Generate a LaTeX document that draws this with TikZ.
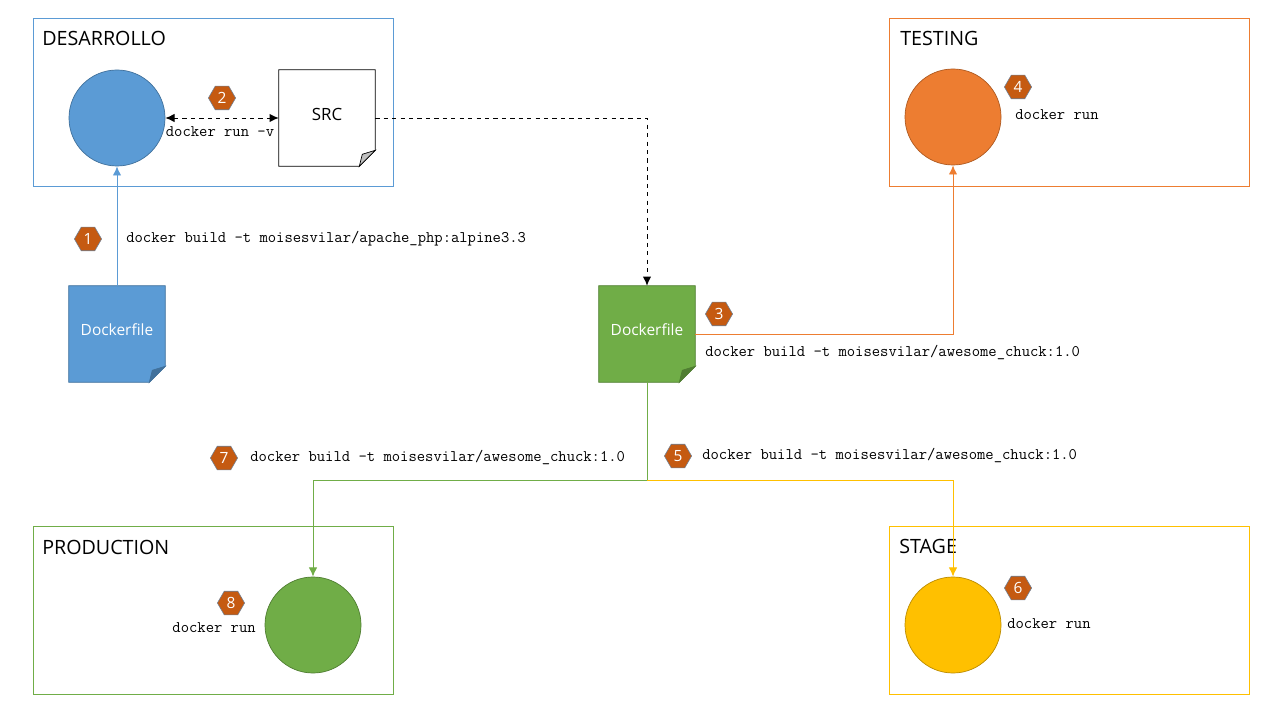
\documentclass[tikz,border=0pt]{standalone}
\usepackage{fontspec}
\setmainfont{Open Sans}
\usetikzlibrary{calc,positioning,arrows,arrows.meta,shapes,backgrounds}
\definecolor{devblue}{HTML}{5B9BD5}
\definecolor{devbluedark}{HTML}{41719C}
\definecolor{testorange}{HTML}{ED7D31}
\definecolor{testorangedark}{HTML}{AE5A21}
\definecolor{prodgreen}{HTML}{70AD47}
\definecolor{prodgreendark}{HTML}{507E32}
\definecolor{stageyellow}{HTML}{FFC000}
\definecolor{stageyellowdark}{HTML}{BC8C00}
\definecolor{badgefill}{HTML}{C55A11}
\definecolor{badgeline}{HTML}{6D7F95}
\definecolor{foldgray}{HTML}{BFBFBF}

\begin{document}
\begin{tikzpicture}[>={Latex[length=6.5pt,width=6pt]}, x=0.025cm, y=-0.025cm, every node/.style={inner sep=0pt}]
      \tikzset{
	  env/.style={draw, line width=0.6pt, minimum width=9cm, minimum height=4.2cm},
	  envtitle/.style={anchor=base west, font=\fontsize{14}{16}\selectfont},
	  host/.style={circle, line width=0.5pt, minimum size=2.4cm},
	  doc/.style={minimum width=2.4cm, minimum height=2.4cm, font=\fontsize{11}{13}\selectfont},
	  badge/.style={regular polygon, regular polygon sides=6, fill=badgefill, draw=badgeline, line width=0.4pt, minimum size=0.68cm, text=white, font=\fontsize{11}{13}\selectfont},
	  cmd/.style={font=\ttfamily\fontsize{11.5}{13}\selectfont},
	  link/.style={line width=0.7pt},
      }
      \useasboundingbox (0,0) rectangle (1280,720);

      % environments
      \node (devbox) at (213,102) [env, draw=devblue] {};
      \node at (42,46) [envtitle] {DESARROLLO};
      \node (testbox) at (1069,102) [env, draw=testorange] {};
      \node at (900,46) [envtitle] {TESTING};
      \node (prodbox) at (213,610) [env, draw=prodgreen] {};
      \node at (42,554) [envtitle] {PRODUCTION};
      \node (stagebox) at (1069,610) [env, draw=stageyellow] {};
      \node at (899,553) [envtitle] {STAGE};

      % containers
      \node (dev) at (117,118) [host, fill=devblue, draw=devbluedark] {};
      \node (test) at (953,117) [host, fill=testorange, draw=testorangedark] {};
      \node (prod) at (313,625) [host, fill=prodgreen, draw=prodgreendark] {};
      \node (stage) at (953,625) [host, fill=stageyellow, draw=stageyellowdark] {};

      % documents
      \node (src) at (327,118) [doc, font=\fontsize{12}{14}\selectfont] {\raisebox{0.2cm}{SRC}};
      \node (df1) at (117,334) [doc, text=white] {\raisebox{0.22cm}{Dockerfile}};
      \node (df2) at (647,334) [doc, text=white] {\raisebox{0.22cm}{Dockerfile}};
      \begin{scope}[on background layer]
	\foreach \d/\f/\k/\g in {src/white/black/foldgray, df1/devblue/devbluedark/devbluedark, df2/prodgreen/prodgreendark/prodgreendark} {
	  \filldraw [fill=\f, draw=\k, line width=0.5pt] (\d.north west) -- (\d.north east) -- ($(\d.south east)+(0,-16)$) -- ($(\d.south east)+(-16,0)$) -- (\d.south west) -- cycle;
	  \filldraw [fill=\g, draw=\k, line width=0.5pt] ($(\d.south east)+(0,-16)$) -- ($(\d.south east)+(-13,-12)$) -- ($(\d.south east)+(-16,0)$) -- cycle;
	}
      \end{scope}

      % connectors
      \coordinate (split) at (647,480);
      \draw [link, devblue, ->] (df1) -- (dev);
      \draw [link, dashed, <->] (dev) -- (src);
      \draw [link, dashed, ->] (src) -| (df2);
      \draw [link, testorange, ->] (df2) -| (test);
      \draw [link, prodgreen] (df2) -- (split);
      \draw [link, prodgreen, ->] (split) -| (prod);
      \draw [link, stageyellow, ->] (split) -| (stage);

      % steps
      \node (b1) at (88,239) [badge] {1};
      \node (c1) at (126,239) [cmd, anchor=west] {docker build -t moisesvilar/apache\_php:alpine3.3};
      \node (b2) at (222,98) [badge] {2};
      \node (c2) at (220,132) [cmd] {docker run -v};
      \node (b3) at (719,314) [badge] {3};
      \node (c3) at (705,353) [cmd, anchor=west] {docker build -t moisesvilar/awesome\_chuck:1.0};
      \node (b4) at (1018,87) [badge] {4};
      \node (c4) at (1015,115) [cmd, anchor=west] {docker run};
      \node (b5) at (678,456) [badge] {5};
      \node (c5) at (702,456) [cmd, anchor=west] {docker build -t moisesvilar/awesome\_chuck:1.0};
      \node (b6) at (1018,588) [badge] {6};
      \node (c6) at (1007,624) [cmd, anchor=west] {docker run};
      \node (b7) at (224,458) [badge] {7};
      \node (c7) at (250,458) [cmd, anchor=west] {docker build -t moisesvilar/awesome\_chuck:1.0};
      \node (b8) at (231,603) [badge] {8};
      \node (c8) at (256,628) [cmd, anchor=east] {docker run};
\end{tikzpicture}
\end{document}
